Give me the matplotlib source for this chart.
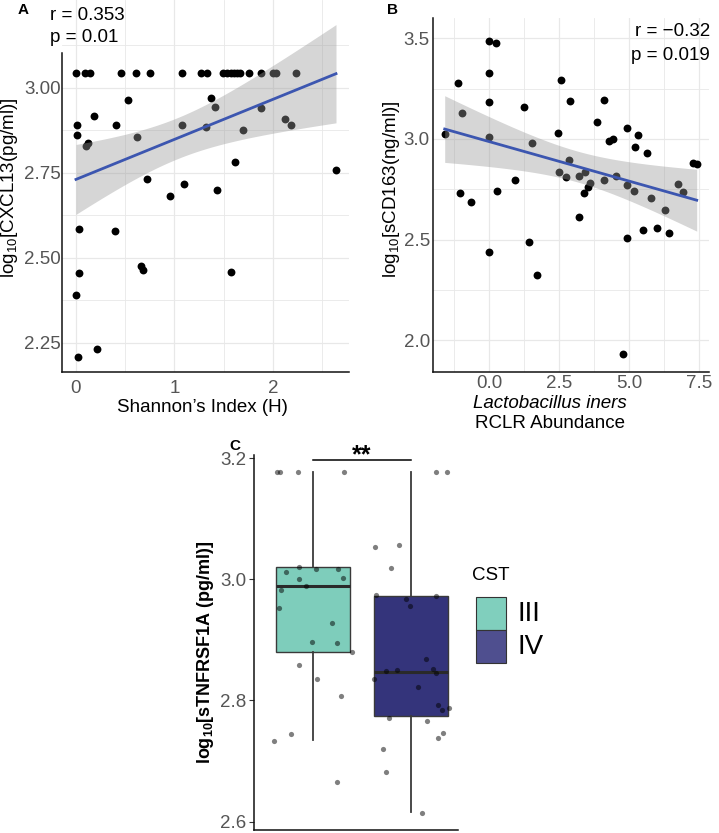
import matplotlib

matplotlib.use("Agg", force=True)
import matplotlib.pyplot as plt
import numpy as np
from matplotlib.patches import Rectangle

plt.rcParams["font.family"] = ["Liberation Sans", "DejaVu Sans"]
plt.rcParams["mathtext.fontset"] = "custom"
plt.rcParams["mathtext.rm"] = "Liberation Sans"
plt.rcParams["mathtext.it"] = "Liberation Sans:italic"
plt.rcParams["mathtext.bf"] = "Liberation Sans:bold"

# ---- panel A: Shannon index vs CXCL13 ----
shannon_h = [0.00, 0.09, 0.14, 0.46, 0.61, 0.75, 1.08, 1.27, 1.33, 1.49,
             1.53, 1.57, 1.60, 1.63, 1.67, 1.76, 1.88, 2.00, 2.03, 2.23,
             0.01, 0.01, 0.10, 0.125, 0.18, 0.41, 0.53, 0.62, 0.72, 0.95,
             1.08, 1.10, 1.32, 1.37, 1.41, 1.43, 1.61, 1.70, 1.88, 2.12,
             2.18, 2.64, 0.03, 0.03, 0.00, 0.02, 0.21, 0.40, 0.66, 0.68, 1.57]
cxcl13 = [3.042] * 20 + [
    2.890, 2.861, 2.829, 2.836, 2.918, 2.891, 2.964, 2.855, 2.731, 2.682,
    2.891, 2.717, 2.884, 2.969, 2.944, 2.699, 2.781, 2.875, 2.940, 2.908,
    2.890, 2.759, 2.584, 2.455, 2.389, 2.207, 2.232, 2.578, 2.476, 2.464, 2.459]
stats_a = ("r = 0.353", "p = 0.01")

# ---- panel B: L. iners RCLR vs sCD163 ----
iners_rclr = [-1.60, -1.11, -0.99, 0.00, 0.23, 0.00, 0.00, 0.00, 1.23, 1.53,
              0.93, 2.47, 2.58, 2.90, 2.85, 2.49, 2.74, 3.22, 3.44, 3.61,
              3.53, 3.39, 3.85, 4.12, 4.12, 4.27, 4.44, 4.54, 4.92, 4.92,
              5.19, 5.23, 5.32, 5.66, 5.80, 6.77, 6.95, 7.28, 7.43, -1.06,
              -0.66, 0.26, 0.00, 1.41, 1.70, 3.20, 6.31, 4.92, 5.50, 6.01,
              6.42, 4.79]
scd163 = [3.023, 3.276, 3.130, 3.488, 3.478, 3.329, 3.185, 3.011, 3.159, 2.980,
          2.798, 3.031, 3.293, 3.189, 2.897, 2.837, 2.809, 2.817, 2.837, 2.781,
          2.760, 2.733, 3.083, 3.194, 2.796, 2.991, 2.998, 2.814, 3.054, 2.770,
          2.741, 2.960, 3.018, 2.930, 2.708, 2.775, 2.736, 2.882, 2.876, 2.730,
          2.687, 2.740, 2.437, 2.487, 2.324, 2.614, 2.646, 2.509, 2.548, 2.559,
          2.531, 1.933]
stats_b = ("r = \u22120.32", "p = 0.019")

# ---- panel C: sTNFRSF1A by CST ----
cst_groups = ["III", "IV"]
cst_colors = ["#7ECDBB", "#34347B"]
legend_colors = ["#80CFBD", "#4F4F8F"]
box_q1 = [2.880, 2.775]
box_median = [2.989, 2.847]
box_q3 = [3.021, 2.972]
box_low = [2.735, 2.615]
box_high = [3.178, 3.178]
iii_jitter = [-0.372, -0.338, -0.157, 0.317, -0.276, -0.140, 0.028, 0.259, 0.304, -0.140,
              -0.328, -0.072, -0.345, 0.198, -0.007, 0.243, 0.396, -0.140, 0.044, 0.284,
              -0.396, -0.228, 0.243]
iii_values = [3.178, 3.178, 3.178, 3.178, 3.013, 3.021, 3.017, 3.017, 3.003, 3.001,
              2.982, 2.989, 2.953, 2.928, 2.896, 2.895, 2.880, 2.858, 2.836, 2.808,
              2.733, 2.744, 2.666]
iv_jitter = [0.259, 0.368, -0.362, -0.120, -0.202, -0.358, -0.051, -0.007, 0.262, 0.157,
             -0.373, -0.253, -0.137, 0.072, 0.228, 0.259, 0.283, 0.320, 0.392, -0.219,
             0.167, 0.328, 0.279, -0.280, -0.256, 0.116]
iv_values = [3.178, 3.178, 3.054, 3.056, 3.019, 2.975, 2.968, 2.956, 2.973, 2.869,
             2.835, 2.848, 2.850, 2.823, 2.852, 2.846, 2.792, 2.784, 2.788, 2.771,
             2.766, 2.747, 2.738, 2.720, 2.682, 2.614]
signif_label = "**"

W, H = 719, 833
TICK_GREY = "#555555"
GRID = "#e8e8e8"
FS = 13.5


def fx(px):
    return px / W


def fy(py):
    return 1 - py / H


def box_axes(left, top, right, bottom):
    return fig.add_axes([fx(left), fy(bottom), (right - left) / W, (bottom - top) / H])


def fit_band(ax, x, y, t_crit=2.01):
    x = np.asarray(x)
    y = np.asarray(y)
    slope, intercept = np.polyfit(x, y, 1)
    resid = y - (slope * x + intercept)
    s = np.sqrt(np.sum(resid**2) / (len(x) - 2))
    sxx = np.sum((x - x.mean()) ** 2)
    grid = np.linspace(x.min(), x.max(), 100)
    fit = slope * grid + intercept
    se = s * np.sqrt(1 / len(x) + (grid - x.mean()) ** 2 / sxx)
    ax.fill_between(grid, fit - t_crit * se, fit + t_crit * se, color="#999999",
                    alpha=0.4, lw=0, zorder=3)
    ax.plot(grid, fit, color="#3C56B0", lw=2.0, zorder=4)


def minimal_style(ax):
    for side in ("top", "right"):
        ax.spines[side].set_visible(False)
    for side in ("left", "bottom"):
        ax.spines[side].set_linewidth(1.1)
        ax.spines[side].set_color("#111111")
    ax.tick_params(which="both", length=0, labelsize=FS, labelcolor=TICK_GREY)
    ax.grid(True, which="major", color=GRID, lw=0.9, zorder=0)
    ax.grid(True, which="minor", color=GRID, lw=0.6, zorder=0)
    ax.set_axisbelow(True)


fig = plt.figure(figsize=(W / 100, H / 100), dpi=100)

# panel A
ax_a = box_axes(62, 0, 349, 372)
minimal_style(ax_a)
ax_a.scatter(shannon_h, cxcl13, s=32, color="black", lw=0, zorder=2)
fit_band(ax_a, shannon_h, cxcl13)
ax_a.set_xlim(-0.142, 2.772)
ax_a.set_ylim(2.164, 3.258)
ax_a.set_xticks([0, 1, 2])
ax_a.set_xticks([0.5, 1.5, 2.5], minor=True)
ax_a.set_yticks([2.25, 2.50, 2.75, 3.00])
ax_a.set_yticks([2.375, 2.625, 2.875, 3.125], minor=True)
ax_a.set_yticklabels(["2.25", "2.50", "2.75", "3.00"])
ax_a.spines["left"].set_bounds(2.164, 3.102)
ax_a.tick_params(axis="y", pad=1)
ax_a.tick_params(axis="x", pad=6)
fig.text(fx(50), fy(15), stats_a[0], fontsize=FS, va="center", ha="left")
fig.text(fx(50), fy(37), stats_a[1], fontsize=FS, va="center", ha="left")
fig.text(fx(10), fy(188), r"log$_{10}$[CXCL13(pg/ml)]", fontsize=FS, rotation=90,
         ha="center", va="center")
fig.text(fx(202), fy(407), "Shannon\u2019s Index (H)", fontsize=FS, ha="center", va="center")
fig.text(fx(23), fy(10), "A", fontsize=11, fontweight="bold", ha="center", va="center")

# panel B
ax_b = box_axes(432.7, 18.3, 709, 372.3)
minimal_style(ax_b)
ax_b.scatter(iners_rclr, scd163, s=32, color="black", lw=0, zorder=2)
fit_band(ax_b, iners_rclr, scd163)
ax_b.set_xlim(-2.03, 7.87)
ax_b.set_ylim(1.841, 3.599)
ax_b.set_xticks([0, 2.5, 5, 7.5])
ax_b.set_xticklabels(["0.0", "2.5", "5.0", "7.5"])
ax_b.set_xticks([-1.25, 1.25, 3.75, 6.25], minor=True)
ax_b.set_yticks([2.0, 2.5, 3.0, 3.5])
ax_b.set_yticks([2.25, 2.75, 3.25], minor=True)
ax_b.tick_params(axis="y", pad=2)
ax_b.tick_params(axis="x", pad=2)
fig.text(fx(710), fy(32), stats_b[0], fontsize=FS, va="center", ha="right")
fig.text(fx(710), fy(55), stats_b[1], fontsize=FS, va="center", ha="right")
fig.text(fx(391), fy(189), r"log$_{10}$[sCD163(ng/ml)]", fontsize=FS, rotation=90,
         ha="center", va="center")
fig.text(fx(550), fy(404), "Lactobacillus iners", fontsize=FS, style="italic",
         ha="center", va="center")
fig.text(fx(550), fy(424), "RCLR Abundance", fontsize=FS, ha="center", va="center")
fig.text(fx(392), fy(10), "B", fontsize=11, fontweight="bold", ha="center", va="center")

# panel C
ax_c = box_axes(254, 455.3, 458, 830)
for side in ("top", "right"):
    ax_c.spines[side].set_visible(False)
for side in ("left", "bottom"):
    ax_c.spines[side].set_linewidth(1.1)
    ax_c.spines[side].set_color("#111111")
positions = [1, 2]
box_stats = [
    {"med": m, "q1": q1, "q3": q3, "whislo": lo, "whishi": hi, "fliers": []}
    for m, q1, q3, lo, hi in zip(box_median, box_q1, box_q3, box_low, box_high)
]
parts = ax_c.bxp(box_stats, positions=positions, widths=0.757, patch_artist=True,
                 showfliers=False, showcaps=False,
                 whiskerprops={"color": "#3a3a3a", "lw": 1.3},
                 medianprops={"color": "#2a2a2a", "lw": 2.2},
                 boxprops={"edgecolor": "#3a3a3a", "lw": 1.0})
for patch, color in zip(parts["boxes"], cst_colors):
    patch.set_facecolor(color)
    patch.set_zorder(2)
ax_c.scatter(np.add(positions[0], iii_jitter), iii_values, s=14, color="black",
             alpha=0.5, lw=0, zorder=4)
ax_c.scatter(np.add(positions[1], iv_jitter), iv_values, s=14, color="black",
             alpha=0.5, lw=0, zorder=4)
ax_c.set_xlim(0.396, 2.484)
ax_c.set_ylim(2.586, 3.205)
ax_c.set_xticks([])
ax_c.set_yticks([2.6, 2.8, 3.0, 3.2])
ax_c.set_yticklabels(["2.6", "2.8", "3.0", "3.2"])
ax_c.tick_params(axis="y", length=3.5, width=0.8, color="#333333", labelsize=FS,
                 labelcolor=TICK_GREY, pad=2)
bracket_y = 3.198
ax_c.plot(positions, [bracket_y, bracket_y], color="black", lw=1.1, clip_on=False)
ax_c.text(np.mean(positions), bracket_y - 0.013, signif_label, fontsize=18,
          fontweight="bold", ha="center", va="bottom", clip_on=False)
fig.text(fx(206), fy(652), r"log$_{\mathbf{10}}$[sTNFRSF1A (pg/ml)]", fontsize=13,
         fontweight="bold", rotation=90, ha="center", va="center")
fig.text(fx(235), fy(446), "C", fontsize=11, fontweight="bold", ha="center", va="center")

# legend
fig.text(fx(491), fy(575), "CST", fontsize=FS, ha="center", va="center")
for i, (name, color) in enumerate(zip(cst_groups, legend_colors)):
    top = 597 + i * 33
    fig.add_artist(Rectangle((fx(476), fy(top + 33)), 30 / W, 33 / H,
                             transform=fig.transFigure, facecolor=color,
                             edgecolor="#333333", lw=0.8))
    fig.text(fx(517), fy(top + 17), name, fontsize=20, ha="left", va="center")

fig.savefig("out.png", dpi=100)
